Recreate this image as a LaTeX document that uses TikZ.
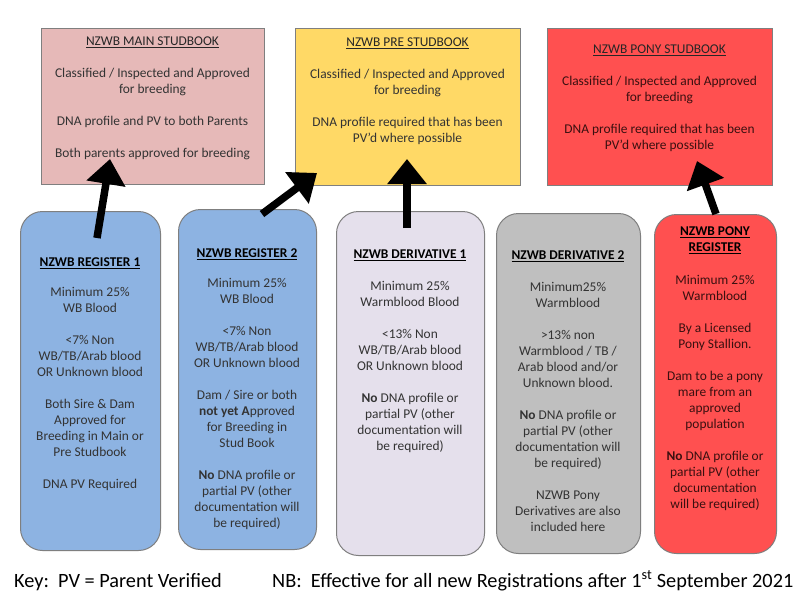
\documentclass[tikz,border=0pt]{standalone}
\usepackage{fontspec}
\setmainfont{Carlito}
\usetikzlibrary{arrows.meta,calc}
\definecolor{mainpink}{HTML}{E6B9B8}
\definecolor{preyellow}{HTML}{FFD966}
\definecolor{ponyred}{HTML}{FF5050}
\definecolor{regblue}{HTML}{8DB3E2}
\definecolor{lav}{HTML}{E5E0EC}
\definecolor{greybox}{HTML}{BFBFBF}
\definecolor{edge}{HTML}{7F7F7F}
\definecolor{body}{HTML}{333333}
\definecolor{redbody}{HTML}{3A1010}
\begin{document}
\begin{tikzpicture}[x=1pt,y=-1pt,
  sbox/.style={draw=edge, line width=1pt, anchor=north west, inner sep=0pt},
  rbox/.style={sbox, rounded corners=22pt},
  txt/.style={anchor=north, align=center, inner sep=0pt, text=body,
    font=\fontsize{13.4}{16}\selectfont},
  bigarrow/.style={line width=7.5pt, -{Triangle[length=25pt,width=38pt]}, black},
  foot/.style={anchor=base west, inner sep=0pt, text=black, font=\fontsize{20.3}{23}\selectfont}
]
\useasboundingbox (0,0) rectangle (800,600);
\fill[white] (0,0) rectangle (800,600);

% top boxes
\node[sbox, fill=mainpink, minimum width=223pt, minimum height=156pt] (main) at (41,28) {};
\node[sbox, fill=preyellow, minimum width=225pt, minimum height=157pt] (pre) at (295,28) {};
\node[sbox, fill=ponyred, minimum width=225pt, minimum height=157pt] (pony) at (547,28) {};

% bottom boxes
\node[rbox, fill=regblue, minimum width=140pt, minimum height=339pt] (reg1) at (20,211) {};
\node[rbox, fill=regblue, minimum width=138pt, minimum height=340pt] (reg2) at (178,209) {};
\node[rbox, fill=lav, minimum width=148pt, minimum height=344pt] (der1) at (336,211) {};
\node[rbox, fill=greybox, minimum width=144pt, minimum height=340pt] (der2) at (496,213) {};
\node[rbox, fill=ponyred, minimum width=122pt, minimum height=339pt] (ponyreg) at (654,214) {};

% top texts
\node[txt] (maintxt) at (152.5,37) {\textcolor{black!85}{\underline{NZWB MAIN STUDBOOK}}\\[16pt]
Classified / Inspected and Approved\\ for breeding\\[16pt]
DNA profile and PV to both Parents\\[16pt]
Both parents approved for breeding};
\node[txt] (pretxt) at (407.5,38) {\textcolor{black!85}{\underline{NZWB PRE STUDBOOK}}\\[16pt]
Classified / Inspected and Approved\\ for breeding\\[16pt]
DNA profile required that has been\\ PV’d where possible};
\node[txt, text=redbody] (ponytxt) at (659.5,45) {\textcolor{black!85}{\underline{NZWB PONY STUDBOOK}}\\[16pt]
Classified / Inspected and Approved\\ for breeding\\[16pt]
DNA profile required that has been\\ PV’d where possible};

% bottom texts
\node[txt] (reg1txt) at (90,258) {\textcolor{black}{\textbf{\underline{NZWB REGISTER 1}}}\\[14pt]
Minimum 25\%\\ WB Blood\\[16pt]
<7\% Non\\ WB/TB/Arab blood\\ OR Unknown blood\\[16pt]
Both Sire \& Dam\\ Approved for\\ Breeding in Main or\\ Pre Studbook\\[16pt]
DNA PV Required};
\node[txt] (reg2txt) at (247,249) {\textcolor{black}{\textbf{\underline{NZWB REGISTER 2}}}\\[14pt]
Minimum 25\%\\ WB Blood\\[16pt]
<7\% Non\\ WB/TB/Arab blood\\ OR Unknown blood\\[16pt]
Dam / Sire or both\\ \textbf{not yet A}pproved\\ for Breeding in\\ Stud Book\\[16pt]
\textbf{No} DNA profile or\\ partial PV (other\\ documentation will\\ be required)};
\node[txt] (der1txt) at (410,250) {\textcolor{black}{\textbf{\underline{NZWB DERIVATIVE 1}}}\\[16pt]
Minimum 25\%\\ Warmblood Blood\\[16pt]
<13\% Non\\ WB/TB/Arab blood\\ OR Unknown blood\\[16pt]
\textbf{No} DNA profile or\\ partial PV (other\\ documentation will\\ be required)};
\node[txt] (der2txt) at (568,251) {\textcolor{black}{\textbf{\underline{NZWB DERIVATIVE 2}}}\\[16pt]
Minimum25\%\\ Warmblood\\[16pt]
>13\% non\\ Warmblood / TB /\\ Arab blood and/or\\ Unknown blood.\\[16pt]
\textbf{No} DNA profile or\\ partial PV (other\\ documentation will\\ be required)\\[16pt]
NZWB Pony\\ Derivatives are also\\ included here};
\node[txt, text=redbody] (ponyregtxt) at (715,227) {\textcolor{black}{\textbf{\underline{NZWB PONY}}}\\ \textcolor{black}{\textbf{\underline{REGISTER}}}\\[17pt]
Minimum 25\%\\ Warmblood\\[16pt]
By a Licensed\\ Pony Stallion.\\[16pt]
Dam to be a pony\\ mare from an\\ approved\\ population\\[16pt]
\textbf{No} DNA profile or\\ partial PV (other\\ documentation\\ will be required)};

% arrow end points
\coordinate (a1s) at ($(reg1.north west)+(77,27)$);
\coordinate (a1e) at ($(main.south west)+(69,-26)$);
\coordinate (a2s) at ($(reg2.north west)+(84,5)$);
\coordinate (a2e) at ($(pre.south west)+(22,-13)$);
\coordinate (a3s) at ($(der1.north west)+(71,17)$);
\coordinate (a3e) at ($(pre.south west)+(112,-27)$);
\coordinate (a4s) at ($(ponyreg.north west)+(62,0)$);
\coordinate (a4e) at ($(pony.south west)+(150,-25)$);

\draw[bigarrow] (a1s) -- (a1e);
\draw[bigarrow] (a2s) -- (a2e);
\draw[bigarrow] (a3s) -- (a3e);
\draw[bigarrow] (a4s) -- (a4e);

% footer
\node[foot] (key) at (14,587) {Key:\ \ PV = Parent Verified};
\node[foot] (nb) at (272,587) {NB:\ \ Effective for all new Registrations after 1\textsuperscript{st} September 2021};
\end{tikzpicture}
\end{document}
